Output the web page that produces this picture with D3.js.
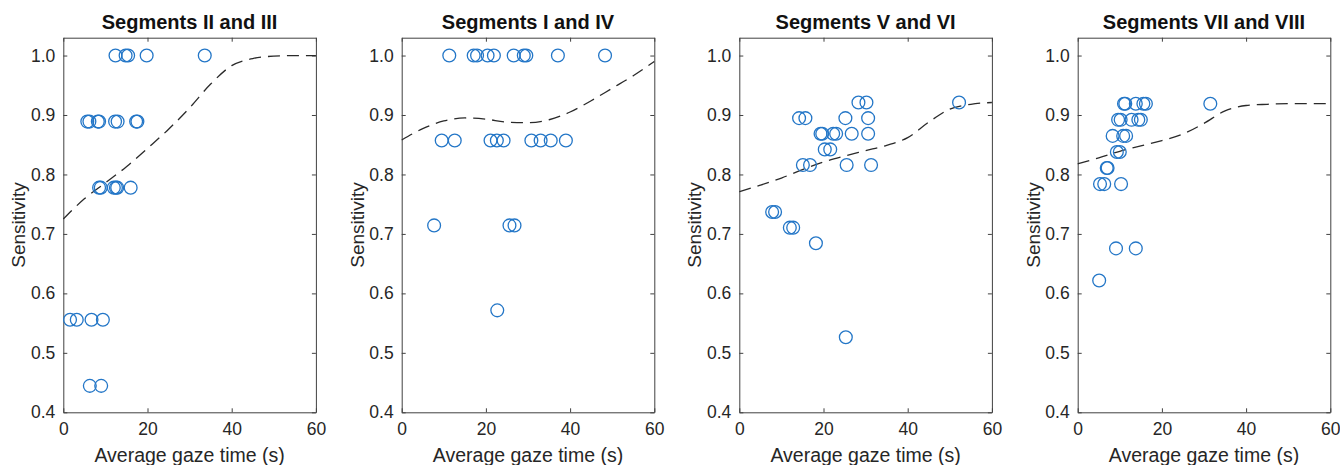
<!DOCTYPE html>
<html>
<head>
<meta charset="utf-8">
<script src="https://cdn.jsdelivr.net/npm/d3@7"></script>
<style>
  html, body { margin: 0; padding: 0; background: #fff; }
  svg { display: block; font-family: "Liberation Sans", Arial, sans-serif; }
</style>
</head>
<body>
<svg id="chart" width="1340" height="465"></svg>
<script>
// ---- Data ----
const titles = ["Segments II and III", "Segments I and IV", "Segments V and VI", "Segments VII and VIII"];
const xLabel = "Average gaze time (s)";
const yLabel = "Sensitivity";
const xTicks = [0, 20, 40, 60];
const yTicks = [0.4, 0.5, 0.6, 0.7, 0.8, 0.9, 1.0];

// Panel 1: Segments II and III
const p1x = [12.4, 14.8, 15.4, 19.8, 33.6,
             5.7, 6.2, 8.2, 8.5, 12.3, 12.9, 17.3, 17.6,
             8.5, 8.9, 12.0, 12.5, 12.8, 16.0,
             1.6, 3.2, 6.7, 9.4,
             6.3, 9.0];
const p1y = [1, 1, 1, 1, 1,
             8/9, 8/9, 8/9, 8/9, 8/9, 8/9, 8/9, 8/9,
             7/9, 7/9, 7/9, 7/9, 7/9, 7/9,
             5/9, 5/9, 5/9, 5/9,
             4/9, 4/9];
const p1fitX = [0, 5, 10, 15, 20, 25, 30, 35, 40, 45, 50, 55, 60];
const p1fitY = [0.725, 0.759, 0.786, 0.813, 0.844, 0.876, 0.912, 0.952, 0.983, 0.995, 0.999, 1.0, 1.0];

// Panel 2: Segments I and IV
const p2x = [11.3, 17.1, 17.9, 20.4, 21.9, 26.6, 29.0, 29.6, 37.1, 48.3,
             9.5, 12.6, 21.1, 22.6, 24.2, 30.8, 33.0, 35.4, 39.0,
             7.7, 25.6, 26.8,
             22.7];
const p2y = [1, 1, 1, 1, 1, 1, 1, 1, 1, 1,
             6/7, 6/7, 6/7, 6/7, 6/7, 6/7, 6/7, 6/7, 6/7,
             5/7, 5/7, 5/7,
             4/7];
const p2fitX = [0, 5, 10, 15, 20, 25, 30, 35, 40, 45, 50, 55, 60];
const p2fitY = [0.858, 0.877, 0.890, 0.895, 0.893, 0.888, 0.887, 0.892, 0.905, 0.924, 0.945, 0.966, 0.990];

// Panel 3: Segments V and VI
const p3x = [28.3, 30.2, 52.2,
             14.2, 15.7, 25.2, 30.6,
             19.3, 19.7, 22.3, 23.0, 26.7, 30.6,
             20.3, 21.6,
             15.1, 16.8, 25.5, 31.3,
             7.8, 8.5,
             12.0, 12.8,
             18.2,
             25.3];
const p3y = [35/38, 35/38, 35/38,
             34/38, 34/38, 34/38, 34/38,
             33/38, 33/38, 33/38, 33/38, 33/38, 33/38,
             32/38, 32/38,
             31/38, 31/38, 31/38, 31/38,
             28/38, 28/38,
             27/38, 27/38,
             26/38,
             20/38];
const p3fitX = [0, 5, 10, 15, 20, 25, 30, 35, 40, 45, 50, 55, 60];
const p3fitY = [0.771, 0.782, 0.794, 0.808, 0.821, 0.831, 0.840, 0.849, 0.862, 0.888, 0.910, 0.918, 0.921];

// Panel 4: Segments VII and VIII
const p4x = [11.0, 11.3, 13.8, 15.6, 16.2, 31.5,
             9.6, 10.2, 12.8, 14.4, 15.0,
             8.3, 10.8, 11.5,
             9.3, 10.0,
             6.9, 7.1,
             5.3, 6.3, 10.3,
             9.1, 13.8,
             5.1];
const p4y = [34/37, 34/37, 34/37, 34/37, 34/37, 34/37,
             33/37, 33/37, 33/37, 33/37, 33/37,
             32/37, 32/37, 32/37,
             31/37, 31/37,
             30/37, 30/37,
             29/37, 29/37, 29/37,
             25/37, 25/37,
             23/37];
const p4fitX = [0, 5, 10, 15, 20, 25, 30, 35, 40, 45, 50, 55, 60];
const p4fitY = [0.818, 0.828, 0.839, 0.848, 0.857, 0.868, 0.886, 0.907, 0.916, 0.918, 0.919, 0.919, 0.919];

const panels = [
  { title: titles[0], xs: p1x, ys: p1y, fx: p1fitX, fy: p1fitY },
  { title: titles[1], xs: p2x, ys: p2y, fx: p2fitX, fy: p2fitY },
  { title: titles[2], xs: p3x, ys: p3y, fx: p3fitX, fy: p3fitY },
  { title: titles[3], xs: p4x, ys: p4y, fx: p4fitX, fy: p4fitY }
];

// ---- Layout ----
const svg = d3.select("#chart");
const axTop = 37.7, axH = 374.6, axW = 252.6;
const axLefts = [63.3, 401.7, 739.3, 1077.7];
const axisColor = "#404040";
const textColor = "#262626";
const markColor = "#2376c7";
const tickLen = 4;

panels.forEach((p, i) => {
  const x = d3.scaleLinear().domain([0, 60]).range([0, axW]);
  const y = d3.scaleLinear().domain([0.4, 1.03]).range([axH, 0]);
  const g = svg.append("g").attr("transform", `translate(${axLefts[i]},${axTop})`);

  const xb = g.append("g").attr("transform", `translate(0,${axH})`)
    .call(d3.axisBottom(x).tickValues(xTicks).tickFormat(d3.format("d")).tickSizeInner(-tickLen).tickSizeOuter(0).tickPadding(10));
  const xt = g.append("g")
    .call(d3.axisTop(x).tickValues(xTicks).tickFormat("").tickSizeInner(-tickLen).tickSizeOuter(0));
  const yl = g.append("g")
    .call(d3.axisLeft(y).tickValues(yTicks).tickFormat(d3.format(".1f")).tickSizeInner(-tickLen).tickSizeOuter(0).tickPadding(8));
  const yr = g.append("g").attr("transform", `translate(${axW},0)`)
    .call(d3.axisRight(y).tickValues(yTicks).tickFormat("").tickSizeInner(-tickLen).tickSizeOuter(0));

  [xb, xt, yl, yr].forEach(a => {
    a.select(".domain").attr("stroke", axisColor).attr("stroke-width", 1);
    a.selectAll(".tick line").attr("stroke", axisColor).attr("stroke-width", 1);
    a.selectAll(".tick text").attr("fill", textColor)
      .style("font-size", "17.5px").style("font-family", "'Liberation Sans', Arial, sans-serif");
  });

  const fit = p.fx.map((v, k) => [v, p.fy[k]]);
  g.append("path")
    .datum(fit)
    .attr("fill", "none")
    .attr("stroke", "#2a2a2a")
    .attr("stroke-width", 1.3)
    .attr("stroke-dasharray", "12,7")
    .attr("d", d3.line().x(d => x(d[0])).y(d => y(d[1])).curve(d3.curveMonotoneX));

  const pts = p.xs.map((v, k) => [v, p.ys[k]]);
  g.selectAll("circle.pt").data(pts).enter().append("circle")
    .attr("class", "pt")
    .attr("cx", d => x(d[0]))
    .attr("cy", d => y(d[1]))
    .attr("r", 6.4)
    .attr("fill", "none")
    .attr("stroke", markColor)
    .attr("stroke-width", 1.3);

  g.append("text")
    .attr("x", axW / 2).attr("y", -9)
    .attr("text-anchor", "middle")
    .attr("fill", "#111")
    .style("font-size", "20px").style("font-weight", "bold")
    .text(p.title);

  g.append("text")
    .attr("x", axW / 2).attr("y", axH + 50)
    .attr("text-anchor", "middle")
    .attr("fill", textColor)
    .style("font-size", "19.5px")
    .text(xLabel);

  g.append("text")
    .attr("transform", `translate(-38,${axH / 2}) rotate(-90)`)
    .attr("text-anchor", "middle")
    .attr("fill", textColor)
    .style("font-size", "19px")
    .text(yLabel);
});
</script>
</body>
</html>
